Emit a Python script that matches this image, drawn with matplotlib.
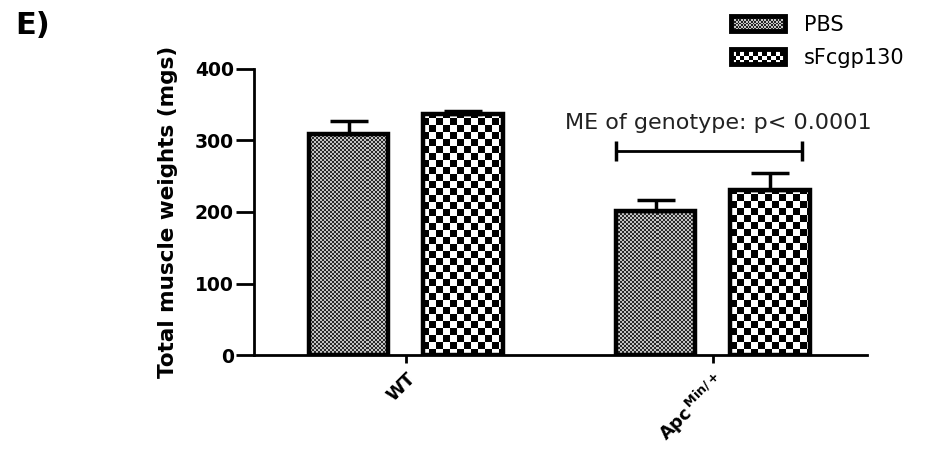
import numpy as np
import matplotlib.pyplot as plt
from matplotlib.patches import Rectangle
from matplotlib.legend_handler import HandlerBase

plt.rcParams['font.family'] = 'DejaVu Sans'
plt.rcParams['mathtext.fontset'] = 'dejavusans'

# --- data ---
groups = ['WT', r'Apc$^{\,\mathbf{Min/+}}$']
series = ['PBS', 'sFcgp130']
means = {'PBS': [309, 201], 'sFcgp130': [337, 231]}
errs = {'PBS': [18, 16], 'sFcgp130': [4, 24]}
bracket_y = 285
bracket_text = 'ME of genotype: p< 0.0001'

# pattern styles: (cell size in px, dark colour, light colour)
patterns = {'PBS': (2, '#2a2a2a', '#c4c4c4'),
            'sFcgp130': (7, '#000000', '#ffffff')}


def checker(h, w, cell, dark, light):
    ii, jj = np.mgrid[0:h, 0:w]
    mask = ((ii // cell + jj // cell) % 2).astype(bool)
    d = np.array(plt.matplotlib.colors.to_rgb(dark))
    l = np.array(plt.matplotlib.colors.to_rgb(light))
    return np.where(mask[..., None], d, l)


class CheckerHandler(HandlerBase):
    def __init__(self, cell, dark, light):
        super().__init__()
        self.cell, self.dark, self.light = cell, dark, light

    def create_artists(self, legend, orig_handle, xdescent, ydescent,
                       width, height, fontsize, trans):
        x0, y0 = -xdescent, -ydescent
        arts = [Rectangle((x0, y0), width, height, facecolor=self.light,
                          edgecolor='none', transform=trans)]
        nx, ny = int(np.ceil(width / self.cell)), int(np.ceil(height / self.cell))
        for i in range(nx):
            for j in range(ny):
                if (i + j) % 2:
                    cw = min(self.cell, width - i * self.cell)
                    ch = min(self.cell, height - j * self.cell)
                    arts.append(Rectangle((x0 + i * self.cell, y0 + j * self.cell),
                                          cw, ch, facecolor=self.dark,
                                          edgecolor='none', transform=trans))
        arts.append(Rectangle((x0, y0), width, height, facecolor='none',
                              edgecolor='black', linewidth=3.5, transform=trans))
        return arts


fig = plt.figure(figsize=(9.27, 4.5), dpi=100)
ax = fig.add_axes([0.274, 0.2111, 0.6613, 0.6356])

x = np.arange(len(groups))
width = 0.26
offset = 0.187
xlim = (-0.495, 1.502)
ylim = (0, 400)

# axes size in pixels for the fill pattern
bbox = ax.get_window_extent()
H, W = int(round(bbox.height)), int(round(bbox.width))

for k, s in enumerate(series):
    xs = x + (k - 0.5) * 2 * offset
    bars = ax.bar(xs, means[s], width=width, facecolor='none',
                  edgecolor='black', linewidth=3.2, zorder=3)
    cell, dark, light = patterns[s]
    img = checker(H, W, cell, dark, light)
    for b in bars:
        im = ax.imshow(img, extent=(*xlim, *ylim), aspect='auto',
                       interpolation='nearest', zorder=2)
        im.set_clip_path(b)
    ax.errorbar(xs, means[s], yerr=[np.zeros(len(xs)), errs[s]], fmt='none',
                ecolor='black', elinewidth=2.5, capsize=14, capthick=2.5, zorder=4)

# significance bracket over the Apc group
bl = x[1] - offset - width / 2
br = x[1] + offset + width * 0.4
ax.plot([bl, br], [bracket_y, bracket_y], color='black', lw=2,
        marker='|', markersize=14, markeredgewidth=2.5)
ax.text((bl + br) / 2 + 0.03, bracket_y + 40, bracket_text, ha='center',
        va='center', fontsize=16, color='#222222')

ax.set_xlim(*xlim)
ax.set_ylim(*ylim)
ax.set_yticks([0, 100, 200, 300, 400])
ax.set_xticks(x)
ax.set_xticklabels(groups, rotation=45, ha='right', va='top',
                   rotation_mode='anchor', fontsize=13, fontweight='bold')
for lab in ax.get_yticklabels():
    lab.set_fontweight('bold')
ax.tick_params(axis='y', labelsize=13.5, length=13, width=2, pad=1.5)
ax.tick_params(axis='x', length=6, width=2, pad=4)
ax.spines['top'].set_visible(False)
ax.spines['right'].set_visible(False)
ax.spines['left'].set_linewidth(2)
ax.spines['bottom'].set_linewidth(2)
ax.set_ylabel('Total muscle weights (mgs)', fontsize=15.5, fontweight='bold',
              labelpad=12)

handles = [Rectangle((0, 0), 1, 1) for _ in series]
fig.legend(handles, series, loc='upper left', bbox_to_anchor=(0.773, 1.0),
           frameon=False, fontsize=15, handlelength=2.6, handleheight=0.75,
           handletextpad=0.9, labelspacing=0.65, borderaxespad=0.3,
           handler_map={h: CheckerHandler(1.2 if s == 'PBS' else 3.2,
                                          patterns[s][1] if s == 'sFcgp130' else '#222222',
                                          patterns[s][2])
                        for h, s in zip(handles, series)})

fig.text(0.016, 0.975, 'E)', fontsize=22, fontweight='heavy', ha='left', va='top')

fig.savefig('out.png', dpi=100)
